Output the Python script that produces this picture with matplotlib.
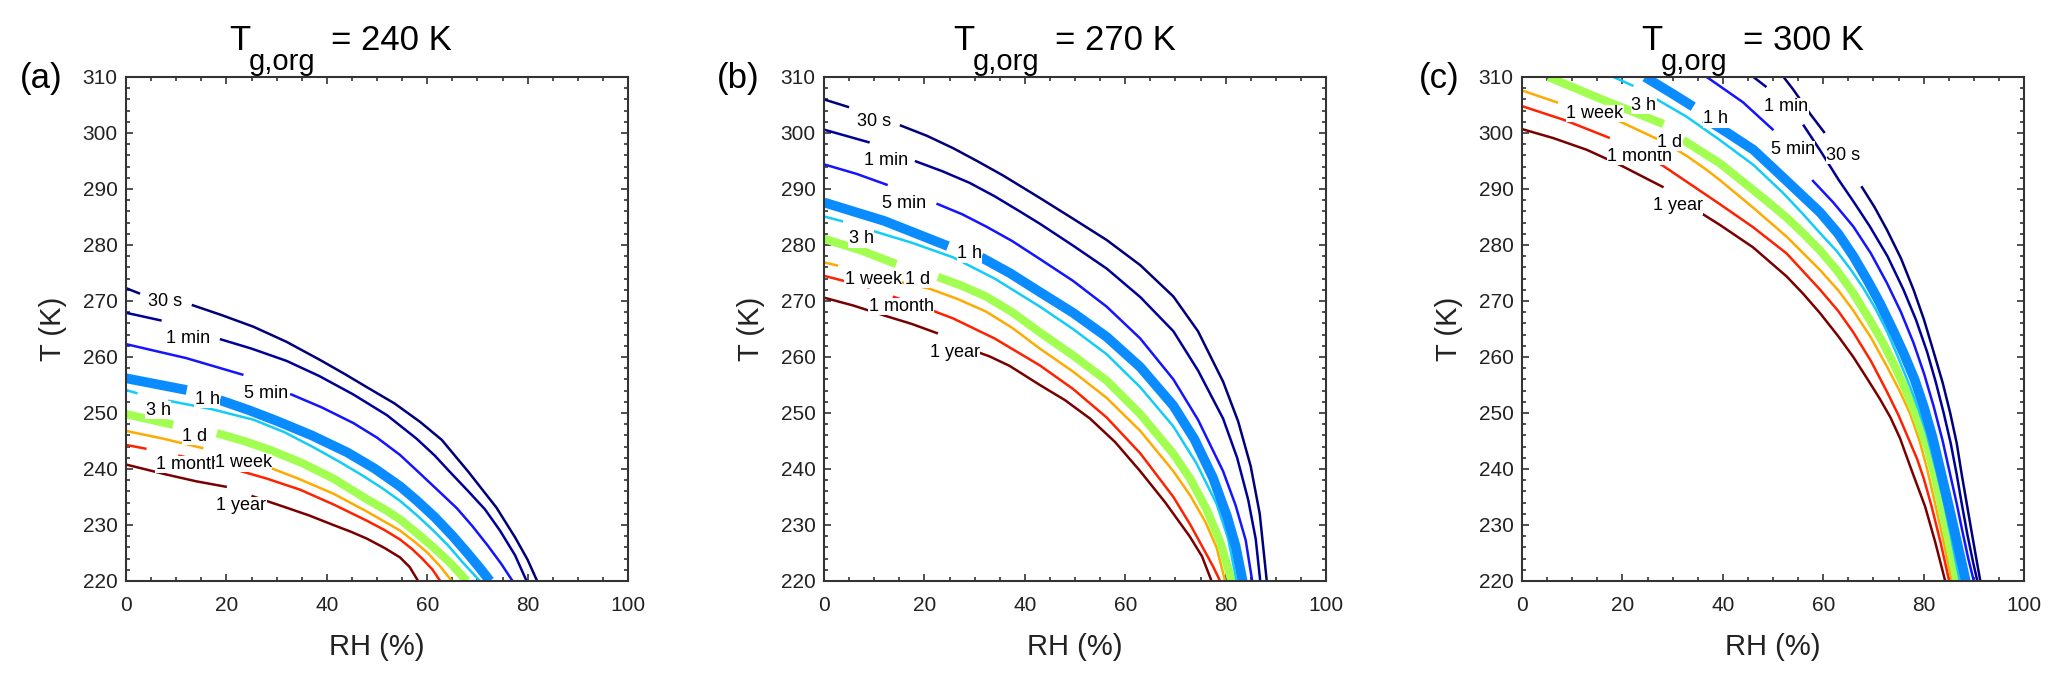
import numpy as np
import matplotlib
matplotlib.use("Agg")
import matplotlib.pyplot as plt
from matplotlib.ticker import MultipleLocator

plt.rcParams['font.family'] = ['Liberation Sans', 'DejaVu Sans']

nan = np.nan

# contour levels, drawn from 30 s down to 1 year
levels = ['30 s', '1 min', '5 min', '1 h', '3 h', '1 d', '1 week', '1 month', '1 year']
colors = ['#00007a', '#000098', '#1414ff', '#0a8cff', '#14ccf8', '#a2ff52',
          '#ffaa00', '#ff2200', '#7a0000']
widths = [1.8, 1.8, 1.8, 7.0, 1.8, 6.0, 1.8, 1.8, 1.8]

tg_org = [240, 270, 300]
tags = ['(a)', '(b)', '(c)']

# ---- panel (a), Tg,org = 240 K ----
rh_a = [
    [0, 2.8, nan, 13.1, 19, 25.4, 32, 38.6, 43.5, 48, 53.5, 58.6, 62.9, 68.2, 73.8, 77.5, 80, 81.9],
    [0, 7.1, nan, 18.7, 25, 32, 38.5, 45.3, 52, 57.9, 61.5, 64.5, 68, 71.5, 74.5, 77.5, 79.8],
    [0, 12, 23.4, nan, 32.7, 39, 45.3, 50, 54.6, 58.2, 62, 65.9, 69, 72, 74.8, 77.0],
    [0, 12.1, nan, 18.7, 24.5, 30, 37, 44, 49.5, 54.6, 58, 61.5, 65, 68, 70.5, 72.5],
    [0, 2.3, nan, 8.4, 17, 25.4, 31.5, 37.3, 42.5, 47, 51, 54.6, 58, 61, 64, 67.2, 70.5],
    [0, 9.4, nan, 18.1, 23.5, 28.7, 35, 41.3, 48, 51.5, 54.6, 58, 61, 64.5, 67.9],
    [0, 7.5, 15.4, nan, 27, 34, 41.3, 48, 51.5, 54.6, 57.5, 60, 62.6, 64.9],
    [0, 4.1, nan, 10.4, 16, 21.4, 28, 34.7, 41.5, 47.9, 51.5, 54.6, 57, 59, 61, 62.6],
    [0, 8.1, 14, 20.1, nan, 25, 31.3, 36.5, 41.3, 44.8, 47.9, 51.5, 54.6, 56.5, 58.2],
]
t_a = [
    [272.3, 271.3, nan, 269.3, 267.5, 265.4, 262.7, 259.5, 257.0, 254.6, 251.7, 248.4, 245.2, 239.5, 233.1, 227.8, 223.8, 220],
    [267.9, 266.5, nan, 263.2, 261.5, 259.3, 256.6, 253.3, 249.6, 245.4, 242.4, 239.5, 236.2, 232.8, 229.0, 224.6, 220],
    [262.3, 259.8, 256.8, nan, 253.4, 251.0, 248.2, 245.6, 242.5, 239.5, 236.3, 233.0, 229.8, 226.4, 223.0, 220],
    [256.2, 254.1, nan, 252.3, 250.5, 248.6, 246.0, 243.0, 240.1, 236.9, 234.3, 231.4, 228.1, 225.0, 222.3, 220],
    [254.1, 253.5, nan, 252.2, 250.7, 248.8, 246.6, 243.9, 241.3, 238.9, 236.6, 234.3, 231.7, 229.2, 226.5, 223.2, 220],
    [249.8, 247.9, nan, 246.4, 245.0, 243.4, 241.1, 238.3, 234.6, 232.8, 231.0, 228.5, 226.2, 223.3, 220],
    [246.8, 245.4, 243.7, nan, 240.8, 238.4, 235.6, 232.4, 230.6, 229.0, 227.0, 225.1, 222.6, 220],
    [244.3, 243.6, nan, 242.4, 241.3, 240.0, 238.3, 236.3, 233.6, 230.8, 229.1, 227.4, 225.7, 224.0, 222.1, 220],
    [240.8, 239.0, 237.8, 236.8, nan, 235.2, 233.3, 231.7, 230.0, 228.8, 227.6, 225.9, 224.2, 222.5, 220],
]
lab_rh_a = [7.8, 12.4, 28.0, 16.2, 6.4, 13.7, 23.4, 12.4, 23.0]
lab_t_a = [269.9, 263.3, 253.5, 252.4, 250.5, 245.8, 241.1, 240.8, 233.4]

# ---- panel (b), Tg,org = 270 K ----
rh_b = [
    [0, 5, nan, 15.1, 20.5, 25.7, 30.7, 35.7, 43, 49.6, 56.3, 63, 69.6, 74.5, 79.5, 82.5, 85.0, 86.8, 88.2],
    [0, 9.1, nan, 18.1, 23.5, 29, 34, 39, 43, 49.6, 56.3, 63, 69.6, 74.5, 79.5, 82.3, 84.5, 86.0, 86.9],
    [0, 6.5, 12.7, nan, 22.4, 27.5, 32.3, 37.5, 43, 49.6, 56.3, 63, 69.6, 74.5, 79.5, 82.0, 84.0, 85.3],
    [0, 12, 24.7, nan, 31.3, 37, 43, 49.6, 56.3, 63, 69.6, 73.8, 77.5, 80.3, 82.0, 83.4],
    [0, 3.8, nan, 9.8, 17.5, 25.7, 34, 43, 49.6, 56.3, 63, 69.6, 74.2, 78.2, 80.5, 82.2],
    [0, 7.2, 14.4, nan, 22.7, 27.5, 32.3, 37.5, 43, 49.6, 56.3, 63, 69.6, 73, 76.2, 79, 81.2],
    [0, 2.8, nan, 6.8, 15.7, 21, 26.5, 32.3, 37.5, 43, 49.6, 56.3, 63, 69.6, 73, 76, 78.2, 79.9],
    [0, 9.1, nan, 13.7, 19.5, 25.7, 34, 43, 49.6, 56.3, 63, 69.6, 73, 75.5, 77.5, 78.9],
    [0, 5.8, 12.4, 17.5, 22.7, nan, 29, 33, 37, 43, 48, 53, 58, 63, 68, 72.9, 75.3, 77.2],
]
t_b = [
    [306.0, 304.6, nan, 301.4, 299.5, 297.3, 294.9, 292.4, 288.4, 284.7, 280.9, 276.4, 270.8, 264.6, 255.6, 248.5, 240.5, 232.0, 220],
    [300.6, 298.3, nan, 295.0, 293.2, 291.1, 288.7, 286.0, 283.8, 279.9, 275.8, 270.7, 264.6, 257.6, 249.0, 242.0, 234.5, 227.5, 220],
    [294.4, 292.7, 290.7, nan, 287.4, 285.5, 283.3, 280.7, 277.5, 273.6, 269.0, 263.3, 256.0, 248.8, 239.6, 233.5, 227.3, 220],
    [287.6, 284.3, 279.8, nan, 277.8, 275.0, 271.6, 267.9, 263.6, 258.2, 251.3, 245.3, 238.4, 231.5, 226.2, 220],
    [285.1, 284.2, nan, 282.5, 280.4, 277.8, 274.0, 269.0, 265.0, 260.5, 254.6, 247.6, 241.0, 233.8, 227.6, 220],
    [281.1, 279.1, 276.6, nan, 274.3, 272.7, 270.8, 268.0, 264.4, 260.3, 255.8, 249.8, 242.7, 238.2, 232.8, 226.8, 220],
    [276.9, 276.3, nan, 275.2, 273.3, 272.2, 270.4, 268.1, 265.2, 261.5, 257.4, 252.7, 246.8, 239.6, 235.2, 230.5, 226.0, 220],
    [274.5, 272.4, nan, 270.8, 269.0, 266.9, 263.3, 258.5, 254.3, 249.2, 242.8, 235.0, 230.0, 225.9, 222.6, 220],
    [270.6, 269.2, 267.3, 265.9, 264.2, nan, 261.4, 260.1, 258.4, 255.0, 252.3, 249.0, 244.8, 239.6, 234.0, 227.9, 224.4, 220],
]
lab_rh_b = [9.9, 12.4, 15.9, 29.0, 7.4, 18.6, 9.8, 15.4, 26.0]
lab_t_b = [302.1, 295.0, 287.4, 278.4, 281.1, 273.9, 273.9, 269.0, 260.8]

# ---- panel (c), Tg,org = 300 K ----
rh_c = [
    [52.1, 54.0, 57.5, 60.3, nan, 67.6, 70.2, 72.7, 75.5, 78.0, 80.1, 82.0, 83.8, 85.3, 86.6, 87.6, 88.6, 89.6, 90.5, 91.3],
    [46.1, 48.7, nan, 56.0, 59.6, 63.1, 66.3, 69.3, 72.8, 76.0, 78.5, 80.7, 82.4, 84.0, 85.4, 86.6, 87.6, 88.7, 89.8, 90.7],
    [36.8, 44, 50.1, nan, 57.8, 62, 66.0, 69.5, 72.7, 75.5, 78.0, 80.1, 82.0, 83.8, 85.3, 86.6, 87.7, 88.9, 90.0],
    [24.5, 30, 34.1, nan, 36.4, 41, 46.1, 52.9, 59.4, 63, 66.0, 69, 71.3, 74, 76.0, 78.2, 80.0, 81.8, 83.3, 84.4, 85.3, 86.9, 88.4],
    [18.2, 22.2, nan, 26.5, 32.8, 39.4, 46.1, 52, 56.0, 59.5, 62.7, 65.5, 68.0, 70.5, 72.7, 75.0, 77.3, 79.0, 80.5, 82.6, 84.2, 85.7, 87.2],
    [5.25, 16.2, 28.2, nan, 32.1, 39.4, 46.1, 49.4, 52.7, 56.0, 59.4, 62.7, 66.0, 69.3, 72.0, 74.6, 77.0, 79.3, 80.8, 82.0, 83.3, 85.0, 86.6],
    [0, 7.2, nan, 18.9, 28.2, 33, 36.8, 39.4, 46.0, 52.7, 59.4, 63, 66.0, 69.5, 72.7, 75.2, 77.3, 79.2, 80.7, 82.3, 84.0, 85.6],
    [0, 8.5, 17.5, nan, 22.5, 28, 32.8, 39.4, 46.0, 52.7, 59.4, 63, 66.0, 69.5, 72.7, 75.0, 77.0, 78.7, 80.0, 81.6, 83.4, 85.1],
    [0, 6.2, 12.9, 19.5, 28.2, nan, 34.8, 39.4, 46.0, 52.7, 56, 59.4, 63, 66.0, 69, 71.3, 73.4, 75.3, 77.6, 80.3, 82.3, 84.3],
]
t_c = [
    [310, 307.8, 303.3, 300.0, nan, 290.5, 286.8, 282.7, 277.6, 272.0, 266.6, 260.9, 255.4, 250.0, 244.6, 239.0, 233.8, 228.6, 224.0, 220],
    [310, 308.2, nan, 301.5, 296.6, 291.6, 287.4, 283.3, 278.0, 272.0, 266.6, 260.9, 255.6, 250.0, 244.6, 239.0, 233.8, 228.4, 223.6, 220],
    [310, 305.5, 300.5, nan, 291.6, 287.6, 283.3, 278.5, 273.2, 268.0, 262.5, 257.0, 251.2, 245.0, 239.0, 233.8, 229.0, 224.0, 220],
    [310, 307.0, 304.7, nan, 302.6, 300.0, 297.0, 291.3, 285.8, 282.0, 278.0, 273.4, 269.6, 264.6, 260.7, 256.0, 251.2, 245.6, 240.0, 235.8, 232.3, 226.0, 220],
    [310, 308.4, nan, 306.2, 302.9, 298.75, 294.3, 289.3, 285.5, 282.0, 278.9, 275.6, 272.3, 268.5, 264.6, 259.8, 254.7, 250.6, 246.6, 239.4, 233.3, 226.8, 220],
    [310, 305.9, 301.6, nan, 298.75, 294.6, 289.8, 287.4, 284.9, 282.1, 279.0, 275.5, 271.4, 266.6, 262.4, 257.7, 252.9, 247.6, 243.6, 239.5, 234.2, 227.2, 220],
    [307.6, 305.4, nan, 302.3, 298.4, 295.8, 293.4, 291.6, 286.7, 281.5, 275.5, 271.9, 268.3, 263.5, 258.3, 254.0, 249.9, 245.0, 240.0, 233.8, 227.0, 220],
    [304.8, 302.3, 299.1, nan, 297.0, 294.2, 291.3, 287.3, 283.2, 278.5, 272.0, 268.2, 264.4, 259.3, 253.8, 249.6, 245.4, 241.8, 238.4, 233.3, 226.8, 220],
    [300.7, 299.1, 297.0, 294.3, 290.3, nan, 286.2, 283.6, 279.6, 274.4, 271.3, 267.8, 263.7, 260.0, 255.8, 252.5, 249.2, 245.5, 239.8, 233.3, 227.0, 220],
]
lab_rh_c = [64.0, 52.7, 53.9, 38.6, 24.3, 29.4, 14.5, 23.5, 31.1]
lab_t_c = [296.0, 304.7, 297.0, 302.5, 304.9, 298.3, 303.5, 295.8, 287.0]

panel_rh = [rh_a, rh_b, rh_c]
panel_t = [t_a, t_b, t_c]
panel_lab_rh = [lab_rh_a, lab_rh_b, lab_rh_c]
panel_lab_t = [lab_t_a, lab_t_b, lab_t_c]

# layout in pixels of the 2067x681 canvas
W, H = 2067, 681
ax_left = [126, 824, 1522]
title_x = [229, 953, 1641]
tag_x = [20, 717, 1419]

fig = plt.figure(figsize=(W / 100, H / 100), dpi=100)

for p in range(3):
    ax = fig.add_axes([ax_left[p] / W, 100 / H, 502 / W, 504 / H])

    # longest time first so the short ones sit on top
    for k in reversed(range(len(levels))):
        ax.plot(panel_rh[p][k], panel_t[p][k], color=colors[k], lw=widths[k],
                solid_capstyle='butt', solid_joinstyle='round', zorder=2)
    for k in reversed(range(len(levels))):
        ax.text(panel_lab_rh[p][k], panel_lab_t[p][k], levels[k], fontsize=13,
                ha='center', va='center', color='black', zorder=3,
                bbox=dict(boxstyle='square,pad=0.02', fc='white', ec='none'))

    ax.set_xlim(0, 100)
    ax.set_ylim(220, 310)
    ax.set_xticks(np.arange(0, 101, 20))
    ax.set_yticks(np.arange(220, 311, 10))
    ax.xaxis.set_minor_locator(MultipleLocator(5))
    ax.yaxis.set_minor_locator(MultipleLocator(2))
    ax.tick_params(which='both', direction='in', top=True, right=True,
                   width=1.2, color='#333333', labelcolor='#222222')
    ax.tick_params(which='major', length=5)
    ax.tick_params(which='minor', length=3)
    ax.tick_params(axis='x', which='major', pad=11, labelsize=15)
    ax.tick_params(axis='y', which='major', pad=6, labelsize=15)
    for sp in ax.spines.values():
        sp.set_linewidth(1.5)
        sp.set_color('#333333')

    ax.set_xlabel('RH (%)', fontsize=21, color='#222222')
    ax.xaxis.label.set_va('baseline')
    ax.xaxis.set_label_coords(0.5, -0.147)
    ax.set_ylabel('T (K)', fontsize=21, color='#222222')
    ax.yaxis.set_label_coords(-0.118, 0.5)

    # title: T with a large subscript g,org
    x0 = title_x[p]
    fig.text(x0 / W, 1 - 50 / H, 'T', fontsize=25, ha='left', va='baseline')
    fig.text((x0 + 20) / W, 1 - 70 / H, 'g,org', fontsize=21, ha='left', va='baseline')
    fig.text((x0 + 102) / W, 1 - 50 / H, '= %d K' % tg_org[p], fontsize=25,
             ha='left', va='baseline')

    fig.text(tag_x[p] / W, 1 - 88 / H, tags[p], fontsize=25, ha='left', va='baseline')

fig.savefig('out.png', dpi=100)
